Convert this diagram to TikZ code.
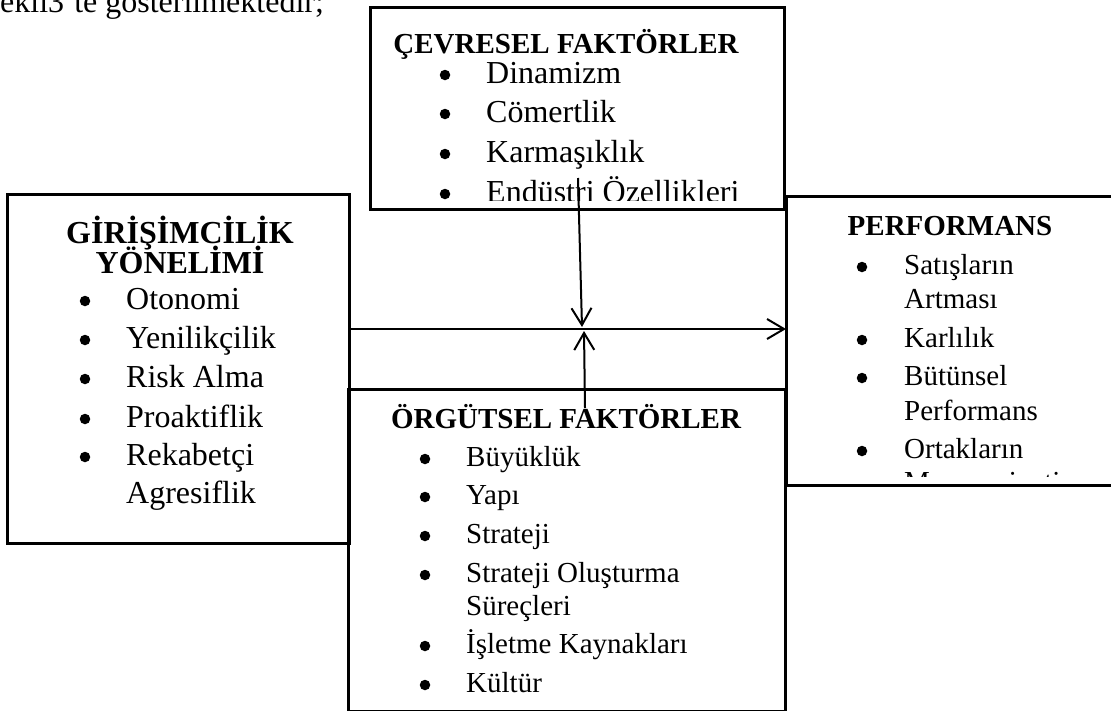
\documentclass[tikz,border=0pt]{standalone}
\usepackage{fontspec}
\setmainfont{Liberation Serif}
\usetikzlibrary{arrows.meta}
\begin{document}
\begin{tikzpicture}[x=1pt,y=-1pt,
  box/.style={draw, line width=3pt, inner sep=0pt, outer sep=0pt, anchor=north west},
  big/.style={anchor=base west, inner sep=0pt, font=\fontsize{32}{38}\selectfont},
  small/.style={anchor=base west, inner sep=0pt, font=\fontsize{29}{34}\selectfont},
  bighead/.style={anchor=base, inner sep=0pt, font=\fontsize{32}{38}\selectfont\bfseries},
  smallhead/.style={anchor=base, inner sep=0pt, font=\fontsize{29}{34}\selectfont\bfseries},
  dot/.style={circle, fill, draw=none, inner sep=0pt, minimum size=10.5pt},
  arr/.style={line width=2pt, -{Straight Barb[length=17pt,width=20pt]}}
]
\useasboundingbox (0,0) rectangle (1111,710);

% leading sentence
\node[big] (intro) at (0,12) {ekli3’te gösterilmektedir;};

% frames
\node[box, minimum width=414pt, minimum height=202pt] (cev) at (370,7) {};
\node[box, minimum width=342pt, minimum height=349pt] (gy) at (7,194) {};
\node[box, minimum width=340pt, minimum height=289pt] (perf) at (786,196) {};
\node[box, minimum width=437pt, minimum height=322pt] (org) at (348,389) {};

% environmental factors
\begin{scope}
  \clip (372,9) rectangle (782,200);
  \node[smallhead] (cevhead) at (566,53) {ÇEVRESEL FAKTÖRLER};
  \foreach \t/\y [count=\i] in {Dinamizm/83, Cömertlik/122, Karmaşıklık/162, Endüstri Özellikleri/202} {
    \node[dot] (cevb\i) at (445,\y-8) {};
    \node[big] (cevt\i) at (486,\y) {\t};
  }
\end{scope}

% entrepreneurial orientation
\node[bighead] (gyhead1) at (180,243) {GİRİŞİMCİLİK};
\node[bighead] (gyhead2) at (180,273) {YÖNELİMİ};
\foreach \t/\y [count=\i] in {Otonomi/309, Yenilikçilik/348, Risk Alma/387, Proaktiflik/427, Rekabetçi/465} {
  \node[dot] (gyb\i) at (85,\y-8) {};
  \node[big] (gyt\i) at (126,\y) {\t};
}
\node[big] (gyt6) at (126,503) {Agresiflik};

% performance
\begin{scope}
  \clip (788,198) rectangle (1111,476);
  \node[smallhead] (perfhead) at (950,235) {PERFORMANS};
  \foreach \t/\y [count=\i] in {Satışların/274, Karlılık/347, Bütünsel/385, Ortakların/458} {
    \node[dot] (perfb\i) at (862,\y-7) {};
    \node[small] (perft\i) at (904,\y) {\t};
  }
  \node[small] (perfc1) at (904,308) {Artması};
  \node[small] (perfc2) at (904,420) {Performans};
  \node[small] (perfc3) at (904,491) {Memnuniyeti};
\end{scope}

% organisational factors
\node[smallhead] (orghead) at (566,428) {ÖRGÜTSEL FAKTÖRLER};
\foreach \t/\y [count=\i] in {Büyüklük/466, Yapı/504, Strateji/543, Strateji Oluşturma/582, İşletme Kaynakları/653, Kültür/692} {
  \node[dot] (orgb\i) at (425,\y-7) {};
  \node[small] (orgt\i) at (466,\y) {\t};
}
\node[small] (orgc1) at (466,615) {Süreçleri};

% connectors
\coordinate (meet) at (583,329);
\coordinate (cevtail) at (578,178);
\coordinate (downtip) at (582,327);
\coordinate (orgtail) at (585,408);
\coordinate (uptip) at (584,331);
\draw[arr] (gy.east |- meet) -- (perf.west |- meet);
\draw[arr] (cevtail) -- (downtip);
\draw[arr] (orgtail) -- (uptip);
\end{tikzpicture}
\end{document}
